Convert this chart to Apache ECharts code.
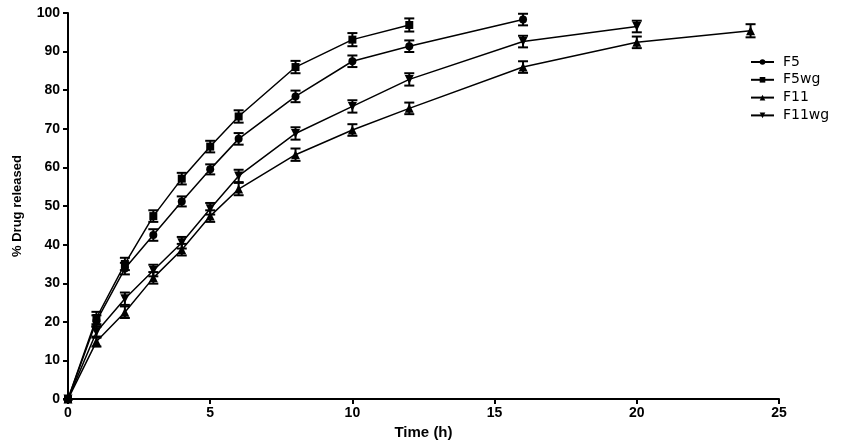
<!DOCTYPE html>
<html><head><meta charset="utf-8">
<script src="https://cdn.jsdelivr.net/npm/echarts@6/dist/echarts.min.js"></script>
<style>html,body{margin:0;padding:0;background:#fff}#c{width:843px;height:445px}</style>
</head><body><div id="c"></div>
<script>
var xTicks = [0, 5, 10, 15, 20, 25];
var yTicks = [0, 10, 20, 30, 40, 50, 60, 70, 80, 90, 100];
var seriesNames = ['F5', 'F5wg', 'F11', 'F11wg'];

var timeF5 = [0, 1, 2, 3, 4, 5, 6, 8, 10, 12, 16];
var valF5 = [0, 20.2, 33.8, 42.5, 51.2, 59.5, 67.4, 78.4, 87.5, 91.4, 98.3];
var errF5 = [0, 1.5, 1.5, 1.5, 1.3, 1.3, 1.5, 1.5, 1.5, 1.5, 1.5];

var timeF5wg = [0, 1, 2, 3, 4, 5, 6, 8, 10, 12];
var valF5wg = [0, 21, 35, 47.4, 57.1, 65.4, 73.2, 86, 93.1, 96.9];
var errF5wg = [0, 1.6, 1.6, 1.5, 1.5, 1.5, 1.6, 1.6, 1.7, 1.7];

var timeF11 = [0, 1, 2, 3, 4, 5, 6, 8, 10, 12, 16, 20, 24];
var valF11 = [0, 14.9, 22.5, 31.4, 38.7, 47.4, 54.4, 63.3, 69.7, 75.3, 86, 92.4, 95.4];
var errF11 = [0, 1.3, 1.5, 1.5, 1.5, 1.5, 1.6, 1.6, 1.5, 1.5, 1.5, 1.5, 1.7];

var timeF11wg = [0, 1, 2, 3, 4, 5, 6, 8, 10, 12, 16, 20];
var valF11wg = [0, 17.4, 26, 33.3, 40.5, 49.3, 57.8, 68.8, 75.8, 82.8, 92.6, 96.5];
var errF11wg = [0, 1.5, 1.6, 1.5, 1.5, 1.5, 1.6, 1.6, 1.6, 1.6, 1.5, 1.5];

var chart = echarts.init(document.getElementById('c'));

function pairs(t, v) { return t.map(function (x, i) { return [x, v[i]]; }); }
function errData(t, v, e) { return t.map(function (x, i) { return [x, v[i] - e[i], v[i] + e[i]]; }); }

var symbols = ['circle', 'rect', 'triangle', 'triangle'];
var rots = [0, 0, 0, 180];
var sizes = [8, 8, 9, 9];
var times = [timeF5, timeF5wg, timeF11, timeF11wg];
var vals = [valF5, valF5wg, valF11, valF11wg];
var errs = [errF5, errF5wg, errF11, errF11wg];

var series = [];
seriesNames.forEach(function (name, k) {
  series.push({
    name: name, type: 'line',
    data: pairs(times[k], vals[k]),
    symbol: symbols[k], symbolRotate: rots[k], symbolSize: sizes[k],
    itemStyle: { color: '#000' },
    lineStyle: { color: '#000', width: 1.5 },
    z: 3
  });
  series.push({
    name: name, type: 'custom',
    data: errData(times[k], vals[k], errs[k]),
    encode: { x: 0, y: [1, 2] },
    renderItem: function (params, api) {
      var x = api.value(0);
      var lo = api.coord([x, api.value(1)]);
      var hi = api.coord([x, api.value(2)]);
      var w = 5;
      var st = { stroke: '#000', lineWidth: 2 };
      return { type: 'group', children: [
        { type: 'line', shape: { x1: lo[0], y1: lo[1], x2: hi[0], y2: hi[1] }, style: st },
        { type: 'line', shape: { x1: lo[0] - w, y1: lo[1], x2: lo[0] + w, y2: lo[1] }, style: st },
        { type: 'line', shape: { x1: hi[0] - w, y1: hi[1], x2: hi[0] + w, y2: hi[1] }, style: st }
      ]};
    },
    z: 4
  });
});

var axisFont = { fontFamily: 'Arial, Liberation Sans, sans-serif', fontWeight: 'bold', fontSize: 14, color: '#000' };

chart.setOption({
  animation: false,
  backgroundColor: '#fff',
  grid: { left: 68, right: 64, top: 13, bottom: 40, containLabel: false },
  legend: {
    data: seriesNames,
    orient: 'vertical', left: 745, top: 50,
    itemWidth: 23, itemHeight: 7, itemGap: 3.8,
    textStyle: { fontFamily: 'DejaVu Sans, sans-serif', fontSize: 14, color: '#000', padding: [0, 0, 0, 4] }
  },
  xAxis: {
    type: 'value', min: 0, max: 25, interval: 5,
    name: 'Time (h)', nameLocation: 'middle', nameGap: 22,
    nameTextStyle: { fontFamily: 'Arial, Liberation Sans, sans-serif', fontWeight: 'bold', fontSize: 15, color: '#000' },
    axisLine: { lineStyle: { color: '#000', width: 2 } },
    axisTick: { length: 5, lineStyle: { color: '#000', width: 2 } },
    axisLabel: Object.assign({ margin: 7 }, axisFont),
    splitLine: { show: false }
  },
  yAxis: {
    type: 'value', min: 0, max: 100, interval: 10,
    name: '% Drug released', nameLocation: 'middle', nameGap: 44,
    nameTextStyle: { fontFamily: 'Arial, Liberation Sans, sans-serif', fontWeight: 'bold', fontSize: 13, color: '#000' },
    axisLine: { lineStyle: { color: '#000', width: 2 } },
    axisTick: { length: 5, lineStyle: { color: '#000', width: 2 } },
    axisLabel: Object.assign({ margin: 8 }, axisFont),
    splitLine: { show: false }
  },
  series: series
});
</script></body></html>
